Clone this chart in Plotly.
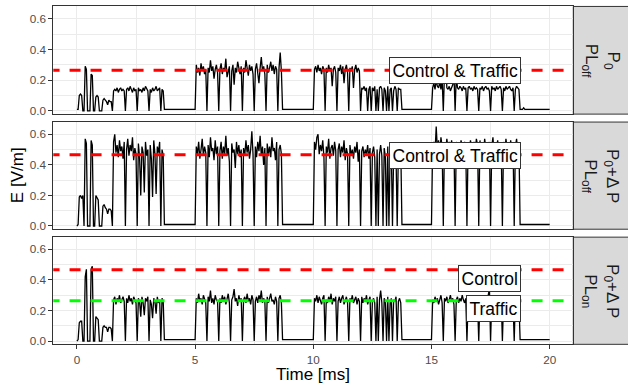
import plotly.graph_objects as go

# ---------------- data ----------------
# sampling instants (ms), one sample every 0.05 ms from 0 to 20 ms
time_ms = [round(i * 0.05, 2) for i in range(401)]

# field strength in units of 0.01 V/m, one row per millisecond (20 samples each)
P1_ROWS = [
    [1, 1, 10, 11, 10, 0, 0, 29, 27, 0, 0, 0, 24, 23, 0, 0, 9, 10, 9, 0],
    [0, 0, 7, 8, 7, 6, 4, 7, 6, 6, 0, 13, 14, 13, 15, 12, 14, 15, 13, 14],
    [13, 0, 14, 15, 13, 16, 14, 12, 15, 13, 14, 0, 15, 13, 14, 12, 15, 13, 16, 14],
    [13, 0, 14, 12, 15, 13, 14, 16, 13, 14, 15, 0, 14, 13, 1, 1, 1, 1, 1, 1],
    [1, 1, 1, 1, 1, 1, 1, 1, 1, 1, 1, 1, 1, 1, 1, 1, 1, 1, 1, 1],
    [1, 30, 25, 28, 23, 31, 26, 29, 24, 27, 0, 28, 25, 33, 26, 29, 21, 27, 30, 25],
    [0, 27, 31, 24, 28, 26, 34, 22, 27, 29, 0, 26, 30, 17, 28, 25, 32, 27, 24, 29],
    [0, 28, 25, 33, 27, 23, 30, 26, 29, 24, 0, 27, 31, 25, 18, 28, 35, 26, 29, 24],
    [0, 30, 25, 28, 32, 26, 30, 24, 29, 27, 0, 28, 38, 26, 1, 1, 1, 1, 1, 1],
    [1, 1, 1, 1, 1, 1, 1, 1, 1, 1, 1, 1, 1, 1, 1, 1, 1, 1, 1, 1],
    [1, 27, 29, 25, 30, 26, 28, 24, 29, 27, 0, 28, 25, 30, 26, 28, 16, 27, 29, 25],
    [0, 28, 26, 30, 24, 29, 18, 27, 30, 25, 0, 28, 26, 29, 15, 27, 30, 25, 28, 26],
    [0, 15, 14, 16, 13, 15, 0, 14, 16, 0, 15, 13, 16, 0, 14, 0, 15, 16, 14, 0],
    [15, 13, 0, 16, 0, 14, 15, 0, 13, 16, 14, 0, 15, 14, 14, 1, 1, 1, 1, 1],
    [1, 1, 1, 1, 1, 1, 1, 1, 1, 1, 1, 1, 1, 1, 1, 1, 1, 1, 1, 1],
    [1, 15, 18, 14, 20, 16, 15, 19, 14, 21, 0, 24, 35, 15, 14, 16, 13, 15, 17, 24],
    [0, 23, 15, 14, 16, 15, 13, 16, 14, 15, 0, 15, 16, 14, 15, 13, 16, 14, 15, 14],
    [0, 15, 14, 16, 13, 15, 16, 14, 15, 13, 0, 16, 14, 15, 13, 16, 14, 15, 16, 14],
    [0, 15, 13, 16, 14, 15, 16, 14, 13, 15, 0, 14, 16, 15, 14, 1, 1, 1, 2, 1],
    [1, 1, 1, 1, 1, 1, 1, 1, 1, 1, 1, 1, 1, 1, 1, 1, 1, 1, 1, 1],
    [1],
]
P2_ROWS = [
    [0, 1, 19, 20, 18, 20, 0, 57, 54, 0, 0, 0, 56, 53, 0, 0, 20, 18, 17, 0],
    [0, 0, 13, 14, 12, 11, 8, 11, 11, 10, 0, 55, 60, 48, 53, 45, 56, 49, 52, 44],
    [55, 0, 50, 57, 46, 53, 49, 58, 43, 51, 47, 0, 54, 45, 20, 52, 48, 22, 55, 46],
    [50, 0, 53, 44, 19, 56, 47, 21, 52, 48, 55, 0, 50, 46, 1, 1, 1, 1, 1, 1],
    [1, 1, 1, 1, 1, 1, 1, 1, 1, 1, 1, 1, 1, 1, 1, 1, 1, 1, 1, 1],
    [1, 52, 47, 55, 44, 50, 57, 46, 52, 48, 0, 53, 45, 58, 49, 51, 43, 56, 47, 52],
    [0, 49, 55, 44, 52, 47, 59, 46, 51, 42, 0, 54, 48, 50, 38, 55, 47, 53, 45, 50],
    [0, 51, 46, 56, 48, 53, 44, 50, 62, 47, 0, 52, 45, 55, 49, 59, 46, 52, 40, 51],
    [0, 54, 47, 52, 45, 58, 49, 51, 43, 55, 0, 50, 53, 47, 1, 1, 1, 1, 1, 1],
    [1, 1, 1, 1, 1, 1, 1, 1, 1, 1, 1, 1, 1, 1, 1, 1, 1, 1, 1, 1],
    [1, 55, 50, 58, 60, 47, 53, 49, 56, 45, 0, 52, 48, 57, 44, 51, 53, 46, 55, 49],
    [0, 50, 54, 45, 52, 48, 56, 43, 51, 47, 0, 53, 46, 50, 44, 52, 48, 55, 42, 50],
    [0, 49, 52, 45, 50, 47, 53, 44, 51, 0, 48, 52, 45, 0, 50, 0, 47, 53, 46, 0],
    [51, 45, 0, 52, 0, 48, 50, 0, 47, 53, 46, 0, 50, 48, 52, 1, 1, 1, 1, 1],
    [1, 1, 1, 1, 1, 1, 1, 1, 1, 1, 1, 1, 1, 1, 1, 1, 1, 1, 1, 1],
    [1, 53, 55, 48, 65, 50, 56, 47, 58, 52, 0, 54, 49, 57, 51, 55, 46, 56, 50, 53],
    [0, 55, 50, 54, 48, 56, 52, 45, 55, 51, 0, 54, 49, 56, 52, 47, 55, 50, 57, 53],
    [0, 56, 49, 53, 47, 57, 51, 54, 48, 55, 0, 52, 58, 47, 53, 50, 56, 49, 54, 51],
    [0, 55, 48, 57, 51, 53, 46, 56, 50, 54, 0, 52, 57, 49, 53, 1, 1, 1, 1, 1],
    [1, 1, 1, 1, 1, 1, 1, 1, 1, 1, 1, 1, 1, 1, 1, 1, 1, 1, 1, 1],
    [1],
]
P3_ROWS = [
    [0, 1, 12, 13, 13, 0, 0, 42, 47, 0, 0, 0, 47, 49, 0, 0, 16, 15, 14, 0],
    [0, 0, 9, 10, 9, 9, 6, 9, 9, 8, 0, 27, 29, 24, 28, 26, 30, 25, 27, 29],
    [26, 0, 28, 25, 30, 26, 28, 24, 29, 27, 25, 0, 28, 26, 16, 29, 25, 17, 28, 26],
    [29, 0, 27, 24, 15, 28, 26, 18, 29, 25, 27, 0, 28, 26, 1, 1, 1, 1, 1, 1],
    [1, 1, 1, 1, 1, 1, 1, 1, 1, 1, 1, 1, 1, 1, 1, 1, 1, 1, 1, 1],
    [1, 28, 25, 31, 26, 28, 24, 30, 27, 25, 0, 29, 26, 33, 25, 28, 24, 30, 27, 26],
    [0, 28, 25, 30, 26, 29, 24, 27, 31, 25, 0, 27, 29, 34, 26, 28, 23, 30, 26, 28],
    [0, 27, 29, 25, 31, 26, 28, 24, 30, 27, 0, 26, 29, 25, 30, 27, 33, 25, 28, 26],
    [0, 29, 25, 28, 31, 26, 27, 24, 29, 26, 0, 28, 30, 25, 1, 1, 1, 1, 1, 1],
    [1, 1, 1, 1, 1, 1, 1, 1, 1, 1, 1, 1, 1, 1, 1, 1, 1, 1, 1, 1],
    [1, 28, 26, 30, 25, 29, 27, 24, 28, 30, 0, 27, 25, 29, 26, 31, 24, 28, 26, 29],
    [0, 26, 29, 25, 28, 30, 24, 27, 29, 25, 0, 28, 26, 30, 25, 27, 29, 24, 28, 26],
    [0, 29, 25, 28, 26, 30, 24, 27, 29, 0, 26, 28, 25, 0, 29, 0, 27, 33, 25, 0],
    [28, 26, 0, 29, 0, 25, 28, 0, 27, 26, 29, 0, 26, 28, 25, 1, 1, 1, 1, 1],
    [1, 1, 1, 1, 1, 1, 1, 1, 1, 1, 1, 1, 1, 1, 1, 1, 1, 1, 1, 1],
    [1, 27, 25, 29, 26, 28, 24, 27, 30, 25, 0, 28, 26, 29, 25, 27, 30, 26, 28, 24],
    [0, 27, 29, 25, 28, 26, 30, 27, 25, 28, 0, 26, 29, 27, 25, 28, 26, 30, 27, 25],
    [0, 28, 26, 29, 25, 27, 28, 26, 30, 34, 0, 27, 29, 25, 28, 26, 27, 29, 25, 28],
    [0, 26, 29, 27, 25, 28, 26, 29, 27, 25, 0, 28, 26, 27, 25, 1, 1, 1, 1, 1],
    [1, 1, 1, 1, 1, 1, 1, 1, 1, 1, 1, 1, 1, 1, 1, 1, 1, 1, 1, 1],
    [1],
]

def flat(rows):
    return [v / 100 for row in rows for v in row]

e_panels = [flat(P1_ROWS), flat(P2_ROWS), flat(P3_ROWS)]

strip_labels = [
    "P<sub>0</sub><br>PL<sub>off</sub>",
    "P<sub>0</sub>+Δ P<br>PL<sub>off</sub>",
    "P<sub>0</sub>+Δ P<br>PL<sub>on</sub>",
]
# reference levels per panel: (value, colour)
ref_levels = [
    [(0.264, "#FF0000")],
    [(0.466, "#FF0000")],
    [(0.466, "#FF0000"), (0.264, "#00FF00")],
]
# text boxes per panel: (text, x right edge, y)
box_labels = [
    [("Control & Traffic", 18.79, 0.262)],
    [("Control & Traffic", 18.79, 0.463)],
    [("Control", 18.79, 0.412), ("Traffic", 18.79, 0.212)],
]
x_ticks = [0, 5, 10, 15, 20]
y_ticks = [0.0, 0.2, 0.4, 0.6]
y_tick_text = ["0.0", "0.2", "0.4", "0.6"]

# ---------------- layout geometry ----------------
W, H = 628, 388
FONT = "Liberation Sans, Arial, sans-serif"
px_left, px_right = 53.3, 573.3
panel_px = [(6.5, 115.0), (123.0, 231.0), (239.0, 347.0)]
x_dom = [px_left / W, px_right / W]
y_doms = [[1 - b / H, 1 - t / H] for t, b in panel_px]

fig = go.Figure()

for i in range(3):
    xa = "x" if i == 0 else f"x{i+1}"
    ya = "y" if i == 0 else f"y{i+1}"
    fig.add_trace(go.Scatter(x=time_ms, y=e_panels[i], mode="lines",
                             line=dict(color="black", width=1.3),
                             xaxis=xa, yaxis=ya, hoverinfo="skip"))
    for val, col in ref_levels[i]:
        fig.add_trace(go.Scatter(x=[-1.2, 21.2], y=[val, val], mode="lines",
                                 line=dict(color=col, width=3, dash="11px,10px"),
                                 xaxis=xa, yaxis=ya, hoverinfo="skip"))

grid_major = "#EBEBEB"
layout = dict(
    width=W, height=H, margin=dict(l=0, r=0, t=0, b=0),
    paper_bgcolor="white", plot_bgcolor="white", showlegend=False,
    font=dict(family=FONT),
)
for i in range(3):
    xk = "xaxis" if i == 0 else f"xaxis{i+1}"
    yk = "yaxis" if i == 0 else f"yaxis{i+1}"
    ya = "y" if i == 0 else f"y{i+1}"
    xa = "x" if i == 0 else f"x{i+1}"
    bottom = (i == 2)
    layout[xk] = dict(
        domain=x_dom, anchor=ya, range=[-1, 21],
        tickvals=x_ticks, ticktext=[str(v) for v in x_ticks],
        showticklabels=bottom, ticks="outside" if bottom else "",
        ticklen=4, tickcolor="#333333", tickwidth=1,
        ticklabelstandoff=1,
        tickfont=dict(family=FONT, size=11.7, color="#4D4D4D"),
        showgrid=True, gridcolor=grid_major, gridwidth=1.1,
        minor=dict(tickvals=[2.5, 7.5, 12.5, 17.5], showgrid=True,
                   gridcolor=grid_major, gridwidth=0.55, ticklen=0),
        zeroline=False, showline=True, mirror=True,
        linecolor="#333333", linewidth=1,
    )
    layout[yk] = dict(
        domain=y_doms[i], anchor=xa, range=[-0.021, 0.680],
        tickvals=y_ticks, ticktext=y_tick_text,
        ticks="outside", ticklen=4, tickcolor="#333333", tickwidth=1,
        tickfont=dict(family=FONT, size=11.7, color="#4D4D4D"),
        showgrid=True, gridcolor=grid_major, gridwidth=1.1,
        minor=dict(tickvals=[0.1, 0.3, 0.5], showgrid=True,
                   gridcolor=grid_major, gridwidth=0.55, ticklen=0),
        zeroline=False, showline=True, mirror=True,
        linecolor="#333333", linewidth=1,
    )
fig.update_layout(**layout)

shapes = []
annotations = []
for i in range(3):
    y0, y1 = y_doms[i]
    shapes.append(dict(type="rect", xref="paper", yref="paper",
                       x0=px_right / W, x1=1.01, y0=y0, y1=y1,
                       fillcolor="#D9D9D9", line=dict(color="#333333", width=1),
                       layer="below"))
    annotations.append(dict(xref="paper", yref="paper",
                            x=(px_right + W) / 2 / W, y=(y0 + y1) / 2,
                            text=strip_labels[i], textangle=90, showarrow=False,
                            xanchor="center", yanchor="middle",
                            font=dict(family=FONT, size=17, color="#1A1A1A")))
    xa = "x" if i == 0 else f"x{i+1}"
    ya = "y" if i == 0 else f"y{i+1}"
    for txt, xr, yv in box_labels[i]:
        annotations.append(dict(xref=xa, yref=ya, x=xr, y=yv, text=txt,
                                showarrow=False, xanchor="right", yanchor="middle",
                                bgcolor="white", bordercolor="#333333",
                                borderwidth=1, borderpad=2.5,
                                font=dict(family=FONT, size=17.5, color="black")))

annotations.append(dict(xref="paper", yref="paper", x=17.5 / W, y=1 - 177 / H,
                        text="E [V/m]", textangle=-90, showarrow=False,
                        xanchor="center", yanchor="middle",
                        font=dict(family=FONT, size=17, color="black")))
annotations.append(dict(xref="paper", yref="paper", x=313.3 / W, y=1 - 377 / H,
                        text="Time [ms]", showarrow=False,
                        xanchor="center", yanchor="middle",
                        font=dict(family=FONT, size=17, color="black")))
fig.update_layout(shapes=shapes, annotations=annotations)

fig.write_html("out.html")
